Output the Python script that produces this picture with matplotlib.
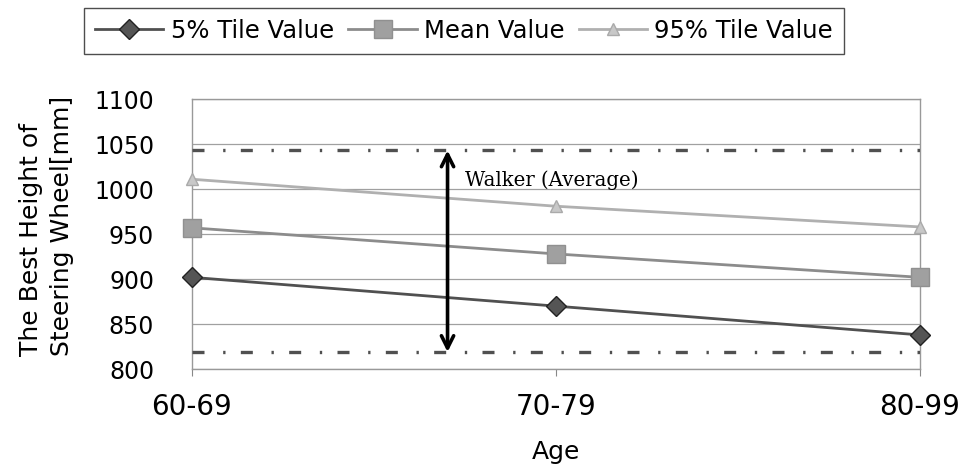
import matplotlib
matplotlib.use('Agg')
import matplotlib.pyplot as plt

ages = ['60-69', '70-79', '80-99']
p5 = [902, 870, 838]
mean = [957, 928, 902]
p95 = [1011, 981, 958]
walker_top = 1043
walker_bottom = 819

plt.rcParams['font.family'] = ['DejaVu Sans']
narrow = ['Liberation Sans Narrow', 'DejaVu Sans']

fig = plt.figure(figsize=(9.63, 4.72), dpi=100)
ax = fig.add_axes([0.199, 0.218, 0.756, 0.572])

x = list(range(len(ages)))

ax.plot(x, p5, color='#505050', lw=2, marker='D', ms=10, clip_on=False,
        mfc='#555555', mec='#222222', mew=1, label='5% Tile Value', zorder=4)
ax.plot(x, mean, color='#8c8c8c', lw=2, marker='s', ms=13, clip_on=False,
        mfc='#a0a0a0', mec='#909090', mew=1, label='Mean Value', zorder=4)
ax.plot(x, p95, color='#b0b0b0', lw=2, marker='^', ms=9, clip_on=False,
        mfc='#c8c8c8', mec='#aaaaaa', mew=1, label='95% Tile Value', zorder=4)

# walker range
for yv in (walker_top, walker_bottom):
    ax.plot([0, 2], [yv, yv], color='#505050', lw=2.4,
            dashes=(3.6, 5.6, 0.7, 4.6), zorder=3)
ax.annotate('', xy=(0.703, walker_top), xytext=(0.703, walker_bottom),
            arrowprops=dict(arrowstyle='<->', color='black', lw=2.6,
                            mutation_scale=22, shrinkA=0, shrinkB=0), zorder=5)
ax.text(0.75, 1010, 'Walker (Average)', family='DejaVu Serif',
        fontsize=14.2, va='center', ha='left')

ax.set_xlim(0, 2)
ax.set_ylim(800, 1100)
ax.set_yticks(range(800, 1101, 50))
ax.set_xticks(x)
ax.set_xticklabels(ages, family=narrow, fontsize=20)
ax.tick_params(axis='y', length=0, labelsize=17, pad=27)
ax.tick_params(axis='x', length=5, color='#888888', pad=12)

ax.grid(axis='y', color='#a0a0a0', lw=0.9)
ax.set_axisbelow(True)
for s in ax.spines.values():
    s.set_color('#999999')
    s.set_linewidth(1)

ax.set_xlabel('Age', family=narrow, fontsize=18, labelpad=14)
ax.set_ylabel('The Best Height of\nSteering Wheel[mm]', fontsize=18,
              linespacing=1.35, multialignment='left')
ax.yaxis.set_label_coords(-0.162, 0.53)

leg = fig.legend(loc='center', bbox_to_anchor=(0.482, 0.935), ncol=3,
                 fontsize=17.5, frameon=True, fancybox=False, edgecolor='#222222',
                 handlelength=2.8, columnspacing=0.6, handletextpad=0.3,
                 borderpad=0.45, borderaxespad=0)
leg.get_frame().set_linewidth(1)

fig.savefig('out.png', dpi=100)
